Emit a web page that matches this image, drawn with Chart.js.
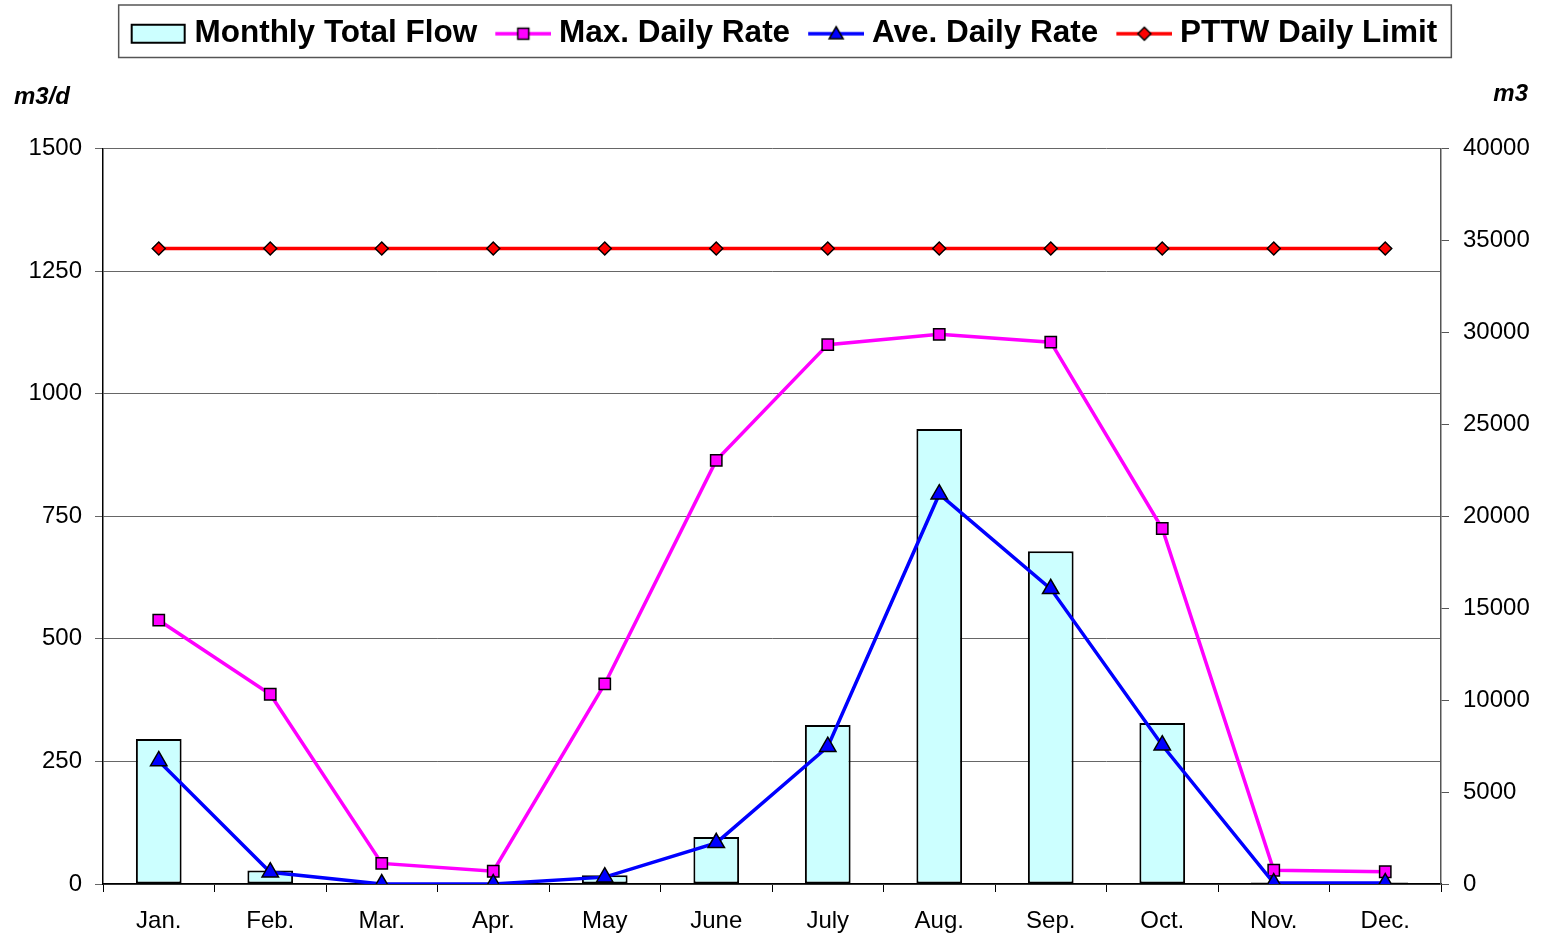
<!DOCTYPE html>
<html>
<head>
<meta charset="utf-8">
<script src="https://cdn.jsdelivr.net/npm/chart.js@4"></script>
<style>
  body { margin: 0; background: #fff; }
</style>
</head>
<body>
<canvas id="chart" width="1545" height="935"></canvas>
<script>
const months = ['Jan.', 'Feb.', 'Mar.', 'Apr.', 'May', 'June', 'July', 'Aug.', 'Sep.', 'Oct.', 'Nov.', 'Dec.'];
// m3, right axis
const monthlyTotal = [7880, 740, 50, 0, 480, 2550, 8650, 24750, 18100, 8760, 80, 80];
// m3/d, left axis
const maxDaily = [538, 387, 42, 26, 408, 864, 1100, 1121, 1105, 725, 28, 25];
const aveDaily = [251, 24, 0, 0, 14, 84, 280, 795, 602, 283, 2, 2];
const pttwLimit = [1296, 1296, 1296, 1296, 1296, 1296, 1296, 1296, 1296, 1296, 1296, 1296];
const leftTicks = [0, 1500, 250];
const rightTicks = [0, 40000, 5000];

const font = "'Liberation Sans', Arial, sans-serif";

// little pictures for the legend: line + marker, like excel
function makeIcon(kind, color) {
  const c = document.createElement('canvas');
  c.width = 72; c.height = 26;
  const g = c.getContext('2d');
  if (kind === 'bar') {
    g.fillStyle = '#CCFFFF';
    g.strokeStyle = '#000';
    g.lineWidth = 2;
    g.fillRect(17, 4, 53, 18);
    g.strokeRect(17, 4, 53, 18);
    return c;
  }
  g.strokeStyle = color;
  g.lineWidth = 3.5;
  g.beginPath(); g.moveTo(16, 13); g.lineTo(72, 13); g.stroke();
  g.fillStyle = color;
  g.strokeStyle = '#000';
  g.lineWidth = 1.5;
  g.beginPath();
  if (kind === 'rect') {
    g.rect(38.5, 7.5, 11, 11);
  } else if (kind === 'triangle') {
    g.moveTo(44, 6); g.lineTo(51, 18); g.lineTo(37, 18); g.closePath();
  } else {
    g.moveTo(44, 6.5); g.lineTo(50.5, 13); g.lineTo(44, 19.5); g.lineTo(37.5, 13); g.closePath();
  }
  g.fill(); g.stroke();
  return c;
}
const legendIcons = [
  makeIcon('bar'),
  makeIcon('rect', '#FF00FF'),
  makeIcon('triangle', '#0000FF'),
  makeIcon('diamond', '#FF0000')
];

const legendFrame = {
  id: 'legendFrame',
  afterDraw(chart) {
    const boxes = chart.legend.legendHitBoxes;
    const first = boxes[0], last = boxes[boxes.length - 1];
    const ctx = chart.ctx;
    ctx.save();
    ctx.strokeStyle = '#555';
    ctx.lineWidth = 1.5;
    ctx.strokeRect(first.left - 4, first.top - 13, last.left + last.width - first.left + 18, first.height + 21);
    // unit labels
    const a = chart.chartArea;
    ctx.fillStyle = '#000';
    ctx.font = "italic bold 24px " + font;
    ctx.textBaseline = 'middle';
    ctx.textAlign = 'left';
    ctx.fillText('m3/d', a.left - 89, a.top - 51);
    ctx.textAlign = 'right';
    ctx.fillText('m3', a.right + 87, a.top - 54);
    ctx.restore();
  }
};

const plain = v => String(v);

new Chart(document.getElementById('chart'), {
  data: {
    labels: months,
    datasets: [
      {
        type: 'bar',
        label: 'Monthly Total Flow',
        data: monthlyTotal,
        yAxisID: 'y2',
        backgroundColor: '#CCFFFF',
        borderColor: '#000',
        borderWidth: 2,
        borderSkipped: false,
        barPercentage: 0.41,
        categoryPercentage: 1,
        order: 4
      },
      {
        type: 'line',
        label: 'Max. Daily Rate',
        data: maxDaily,
        yAxisID: 'y',
        borderColor: '#FF00FF',
        borderWidth: 3.5,
        pointStyle: 'rect',
        pointRadius: 8,
        pointBackgroundColor: '#FF00FF',
        pointBorderColor: '#000',
        pointBorderWidth: 1.5,
        tension: 0,
        order: 3
      },
      {
        type: 'line',
        label: 'Ave. Daily Rate',
        data: aveDaily,
        yAxisID: 'y',
        borderColor: '#0000FF',
        borderWidth: 3.5,
        pointStyle: 'triangle',
        pointRadius: 9.5,
        pointBackgroundColor: '#0000FF',
        pointBorderColor: '#000',
        pointBorderWidth: 1.5,
        tension: 0,
        order: 2
      },
      {
        type: 'line',
        label: 'PTTW Daily Limit',
        data: pttwLimit,
        yAxisID: 'y',
        borderColor: '#FF0000',
        borderWidth: 3.5,
        pointStyle: 'rectRot',
        pointRadius: 6.5,
        pointBackgroundColor: '#FF0000',
        pointBorderColor: '#000',
        pointBorderWidth: 1.5,
        tension: 0,
        order: 1
      }
    ]
  },
  options: {
    responsive: false,
    animation: false,
    devicePixelRatio: 1,
    layout: {
      padding: { left: 15, right: 0, top: 8, bottom: 0 }
    },
    plugins: {
      tooltip: { enabled: false },
      legend: {
        position: 'top',
        weight: 3000,
        labels: {
          usePointStyle: true,
          pointStyleWidth: 56,
          padding: 10,
          color: '#000',
          font: { family: font, size: 31.5, weight: 'bold' },
          generateLabels: chart => chart.data.datasets.map((ds, i) => ({
            text: ds.label,
            pointStyle: legendIcons[i],
            datasetIndex: i,
            fillStyle: 'transparent',
            strokeStyle: 'transparent',
            lineWidth: 0,
            fontColor: '#000',
            hidden: false
          }))
        }
      },
      title: {
        display: true,
        text: '',
        font: { size: 10 },
        padding: { top: 0, bottom: 77 }
      }
    },
    scales: {
      x: {
        offset: true,
        grid: {
          offset: true,
          drawOnChartArea: false,
          drawTicks: true,
          tickLength: 8,
          color: '#000'
        },
        border: { color: '#000', width: 1.5 },
        ticks: {
          color: '#000',
          padding: 15,
          maxRotation: 0,
          font: { family: font, size: 24 }
        },
        afterFit: s => { s.height = 51; }
      },
      y: {
        position: 'left',
        min: leftTicks[0],
        max: leftTicks[1],
        grid: { color: '#666', tickLength: 8, lineWidth: 1 },
        border: { color: '#000', width: 1.5 },
        ticks: {
          stepSize: leftTicks[2],
          callback: plain,
          color: '#000',
          padding: 13,
          font: { family: font, size: 24 }
        },
        afterFit: s => { s.width = 88; }
      },
      y2: {
        position: 'right',
        min: rightTicks[0],
        max: rightTicks[1],
        grid: { drawOnChartArea: false, color: '#555', tickLength: 8 },
        border: { color: '#555', width: 1.5 },
        ticks: {
          stepSize: rightTicks[2],
          callback: plain,
          color: '#000',
          padding: 14,
          font: { family: font, size: 24 }
        },
        afterFit: s => { s.width = 104; }
      }
    }
  },
  plugins: [legendFrame]
});
</script>
</body>
</html>
